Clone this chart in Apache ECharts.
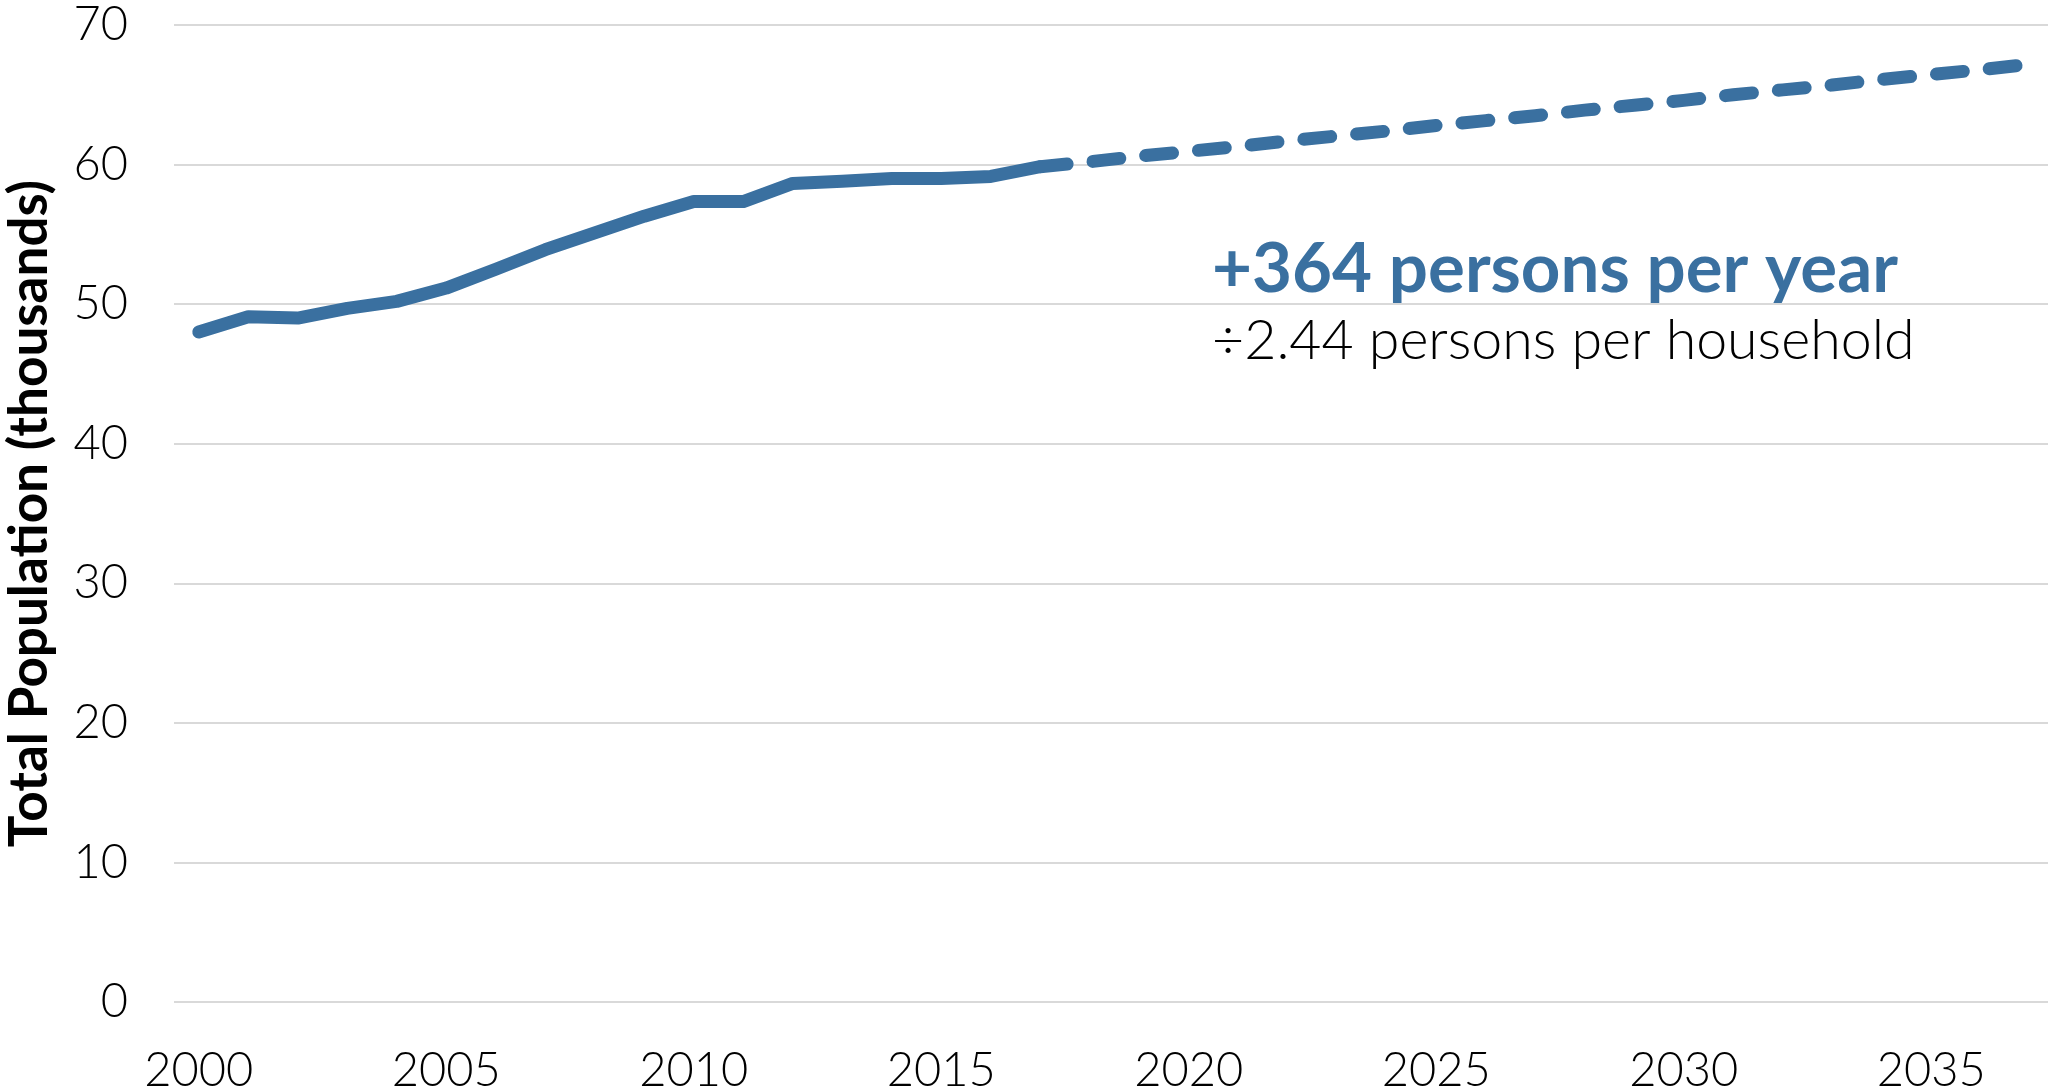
<!DOCTYPE html>
<html>
<head>
<meta charset="utf-8">
<script src="https://cdn.jsdelivr.net/npm/echarts@6/dist/echarts.min.js"></script>
<style>
html,body{margin:0;padding:0;background:#fff;}
#chart{width:2048px;height:1088px;}
</style>
</head>
<body>
<div id="chart"></div>
<script>
var years = [];
for (var y = 2000; y <= 2037; y++) years.push(String(y));

var actualValues = [48.0, 49.1, 49.0, 49.7, 50.2, 51.15, 52.5, 53.9, 55.1, 56.3, 57.35, 57.35, 58.65, 58.8, 59.0, 59.0, 59.15, 59.85];
var projectedValues = [59.85, 60.2, 60.6, 60.95, 61.3, 61.7, 62.05, 62.4, 62.8, 63.15, 63.5, 63.9, 64.25, 64.6, 65.0, 65.35, 65.7, 66.1, 66.45, 66.8, 67.2];
var projectionStartYear = 2017;

var yTicks = [0, 10, 20, 30, 40, 50, 60, 70];
var axisTitle = 'Total Population (thousands)';
var noteMain = '+364 persons per year';
var noteSub = '\u00f72.44 persons per household';

var blue = '#3a70a0';

var actualSeries = years.map(function (yr, i) { return i < actualValues.length ? actualValues[i] : null; });
var startIdx = years.indexOf(String(projectionStartYear));
var projSeries = years.map(function (yr, i) { return i >= startIdx ? projectedValues[i - startIdx] : null; });

var chart = echarts.init(document.getElementById('chart'));
chart.setOption({
  animation: false,
  backgroundColor: '#ffffff',
  grid: { left: 174, top: 25, width: 1881, height: 977, containLabel: false, outerBoundsMode: 'none' },
  xAxis: {
    type: 'category',
    data: years,
    boundaryGap: true,
    axisLine: { show: false },
    axisTick: { show: false },
    axisLabel: { interval: 4, margin: 45, fontSize: 47, color: '#000', fontFamily: 'Lato', fontWeight: 300 },
    splitLine: { show: false }
  },
  yAxis: {
    type: 'value',
    min: yTicks[0],
    max: yTicks[yTicks.length - 1],
    interval: 10,
    name: axisTitle,
    nameLocation: 'middle',
    nameRotate: 90,
    nameGap: 118,
    nameTextStyle: { fontSize: 53, fontWeight: 'bold', color: '#000', fontFamily: 'Lato' },
    axisLine: { show: false },
    axisTick: { show: false },
    axisLabel: { margin: 46, fontSize: 47, color: '#000', fontFamily: 'Lato', fontWeight: 300 },
    splitLine: { lineStyle: { color: '#d9d9d9', width: 2 } }
  },
  series: [
    {
      type: 'line',
      data: actualSeries,
      symbol: 'none',
      lineStyle: { color: blue, width: 13, cap: 'round', join: 'round' }
    },
    {
      type: 'line',
      data: projSeries,
      symbol: 'none',
      lineStyle: { color: blue, width: 13, type: [27, 26], cap: 'round', join: 'round' }
    }
  ],
  graphic: [
    {
      type: 'text',
      x: 1212, y: 270,
      style: { text: noteMain, fill: blue, font: 'bold 69px Lato', textAlign: 'left', textVerticalAlign: 'middle' }
    },
    {
      type: 'text',
      x: 1212, y: 341,
      style: { text: noteSub, fill: '#000', font: '300 55.5px Lato', textAlign: 'left', textVerticalAlign: 'middle' }
    }
  ]
});
</script>
</body>
</html>
